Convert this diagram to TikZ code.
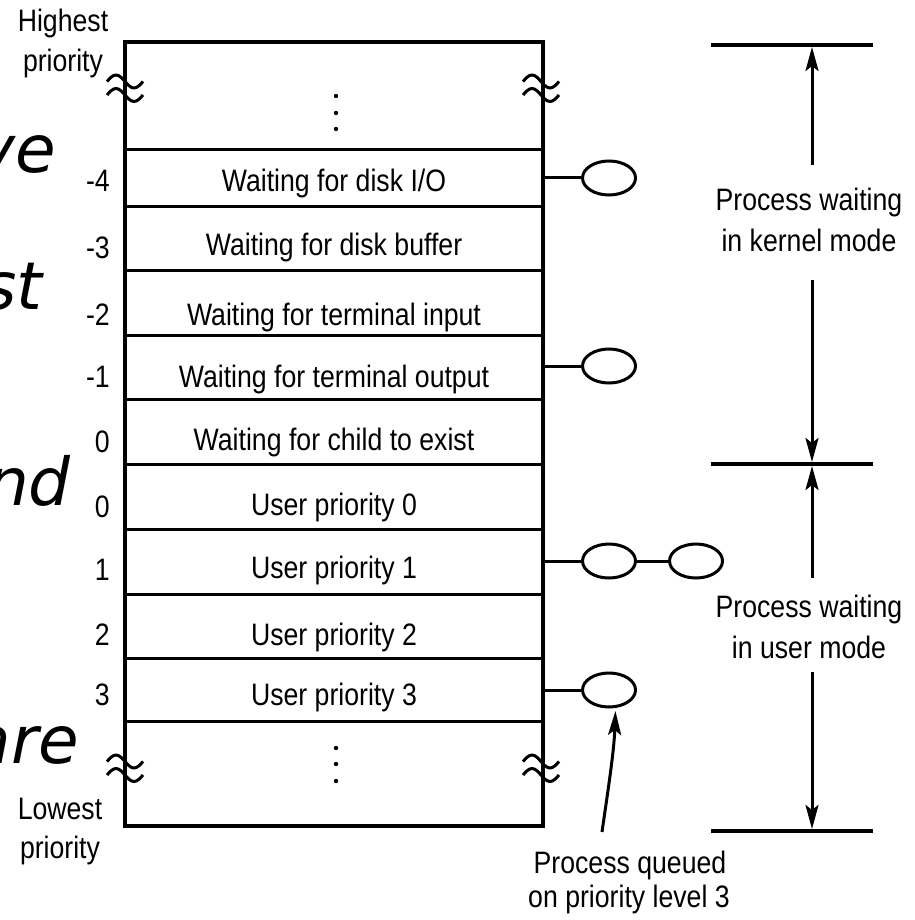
\documentclass[tikz,border=0pt]{standalone}
\usepackage{fontspec}
\setmainfont{Liberation Sans}[FakeStretch=0.86]
\newfontfamily\bigobl{DejaVu Sans}
\usetikzlibrary{arrows.meta,shapes.geometric}
\begin{document}
\begin{tikzpicture}[x=1pt,y=-1pt,
  lbl/.style={font=\fontsize{31}{34}\selectfont, inner sep=0pt},
  ln/.style={line width=3pt},
  qel/.style={draw, ellipse, line width=3pt, minimum width=53pt, minimum height=34pt, inner sep=0pt},
  arr/.style={line width=3pt, -{Stealth[length=24pt,width=13pt,inset=5pt]}},
  bigit/.style={font=\bigobl\itshape\fontsize{66}{70}\selectfont, inner sep=0pt, anchor=base east},
  squig/.pic={
    \draw[line width=3pt] (-18,-6.5) sin (-9,-13) cos (0,-6.5) sin (9,0) cos (18,-6.5);
    \draw[line width=3pt] (-18,7) sin (-9,0.5) cos (0,7) sin (9,13.5) cos (18,7);
  }]
\useasboundingbox (0,0) rectangle (914,920);
\clip (0,0) rectangle (914,920);
\fill[white] (0,0) rectangle (914,920);

% background slide fragments
\node[bigit] (w1) at (56,173) {ve};
\node[bigit] (w2) at (43,309) {st};
\node[bigit] (w3) at (71,505) {nd};
\node[bigit] (w4) at (79,763) {are};

% table
\draw[line width=3.5pt] (125,42) rectangle (543,826);
\foreach \y in {150,206,270,335,399,464,529,594,658,721}
  \draw[ln] (125,\y) -- (543,\y);

% squiggles
\pic at (125,88) {squig};
\pic at (541,88) {squig};
\pic at (125,768) {squig};
\pic at (541,768) {squig};

% dots
\foreach \y in {96,113,129,748,764,781}
  \fill (336,\y) circle (2.2);

% row labels
\node[lbl, anchor=base] (r1) at (334,192) {Waiting for disk I/O};
\node[lbl, anchor=base] (r2) at (334,255) {Waiting for disk buffer};
\node[lbl, anchor=base] (r3) at (334,325) {Waiting for terminal input};
\node[lbl, anchor=base] (r4) at (334,387) {Waiting for terminal output};
\node[lbl, anchor=base] (r5) at (334,450) {Waiting for child to exist};
\node[lbl, anchor=base] (r6) at (334,515) {User priority 0};
\node[lbl, anchor=base] (r7) at (334,578) {User priority 1};
\node[lbl, anchor=base] (r8) at (334,645) {User priority 2};
\node[lbl, anchor=base] (r9) at (334,705) {User priority 3};

% priority numbers
\node[lbl, anchor=base east] (n1) at (110,192) {-4};
\node[lbl, anchor=base east] (n2) at (110,258) {-3};
\node[lbl, anchor=base east] (n3) at (110,325) {-2};
\node[lbl, anchor=base east] (n4) at (110,387) {-1};
\node[lbl, anchor=base east] (n5) at (110,452) {0};
\node[lbl, anchor=base east] (n6) at (110,517) {0};
\node[lbl, anchor=base east] (n7) at (110,580) {1};
\node[lbl, anchor=base east] (n8) at (110,645) {2};
\node[lbl, anchor=base east] (n9) at (110,705) {3};

% highest / lowest
\node[lbl, anchor=base] (h1) at (63,32) {Highest};
\node[lbl, anchor=base] (h2) at (63,72) {priority};
\node[lbl, anchor=base] (l1) at (60,819) {Lowest};
\node[lbl, anchor=base] (l2) at (60,858) {priority};

% queues
\node[qel] (e1) at (609,178) {};
\node[qel] (e2) at (609,366) {};
\node[qel] (e3) at (609,561) {};
\node[qel] (e4) at (696,561) {};
\node[qel] (e5) at (609,690) {};
\coordinate (c1) at (543,178);
\coordinate (c2) at (543,366);
\coordinate (c3) at (543,561);
\coordinate (c5) at (543,690);
\draw[ln] (c1) -- (e1);
\draw[ln] (c2) -- (e2);
\draw[ln] (c3) -- (e3);
\draw[ln] (e3) -- (e4);
\draw[ln] (c5) -- (e5);

% right scale
\coordinate (b1l) at (711,45);  \coordinate (b1r) at (873,45);
\coordinate (b2l) at (711,464); \coordinate (b2r) at (873,464);
\coordinate (b3l) at (711,831); \coordinate (b3r) at (873,831);
\draw[line width=4pt] (b1l) -- (b1r);
\draw[line width=4pt] (b2l) -- (b2r);
\draw[line width=4pt] (b3l) -- (b3r);
\coordinate (t1) at (812,47);
\coordinate (t2) at (812,462);
\coordinate (t3) at (812,466);
\coordinate (t4) at (812,829);
\coordinate (s1) at (812,165);
\coordinate (s2) at (812,280);
\coordinate (s3) at (812,578);
\coordinate (s4) at (812,672);
\draw[arr] (s1) -- (t1);
\draw[arr] (s2) -- (t2);
\draw[arr] (s3) -- (t3);
\draw[arr] (s4) -- (t4);

\node[lbl, anchor=base] (k1) at (809,210) {Process waiting};
\node[lbl, anchor=base] (k2) at (809,251) {in kernel mode};
\node[lbl, anchor=base] (u1) at (809,617) {Process waiting};
\node[lbl, anchor=base] (u2) at (809,658) {in user mode};

% queued label
\node[lbl, anchor=base] (q1) at (630,873) {Process queued};
\node[lbl, anchor=base] (q2) at (629,907) {on priority level 3};
\coordinate (qa) at (602,832);
\draw[arr, shorten >=3pt] (qa) .. controls (608,790) and (614,752) .. (e5.-70);
\end{tikzpicture}
\end{document}
